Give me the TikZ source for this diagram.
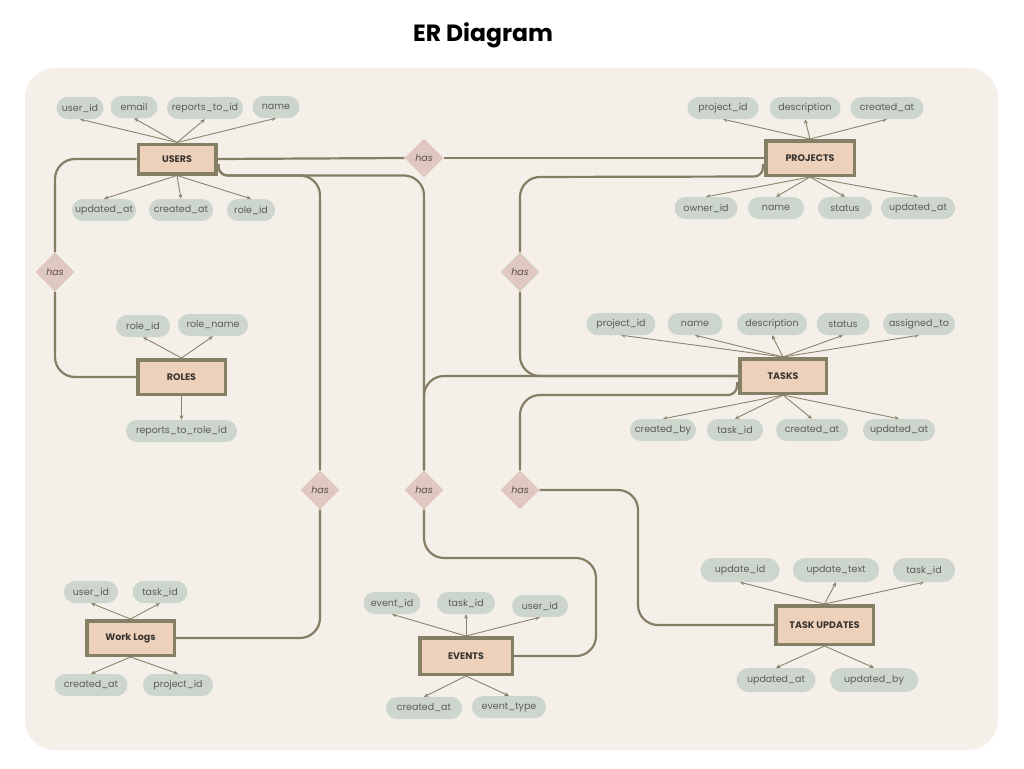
\documentclass[tikz,border=0pt]{standalone}
\usepackage{fontspec}
\setmainfont{Poppins}
\usetikzlibrary{shapes.geometric,arrows.meta,calc}
\definecolor{panel}{HTML}{F4EFE9}
\definecolor{entfill}{HTML}{EDD1BB}
\definecolor{entdraw}{HTML}{857F66}
\definecolor{attrfill}{HTML}{CDD6CC}
\definecolor{attrtext}{HTML}{5B5D57}
\definecolor{relfill}{HTML}{DFC8C0}
\definecolor{reltext}{HTML}{5A4F4C}
\definecolor{conn}{HTML}{847E66}
\definecolor{arr}{HTML}{8A846F}
\definecolor{enttext}{HTML}{3A3430}
\pgfdeclarelayer{panellayer}
\pgfdeclarelayer{lineslayer}
\pgfsetlayers{panellayer,lineslayer,main}
\begin{document}
\begin{tikzpicture}[x=1pt,y=-1pt,
 entity/.style={draw=entdraw,line width=3.5pt,fill=entfill,text=enttext,font=\bfseries\fontsize{9.5}{11}\selectfont,inner sep=0pt},
 attr/.style={fill=attrfill,text=attrtext,rounded corners=11pt,minimum height=22pt,inner sep=0pt,font=\fontsize{9.5}{11}\selectfont},
 rel/.style={diamond,fill=relfill,text=reltext,inner sep=0pt,minimum width=39pt,minimum height=39pt,font=\itshape\fontsize{9.5}{11}\selectfont},
 link/.style={draw=conn,line width=2.2pt,rounded corners=20pt},
 attrarrow/.style={draw=arr,line width=0.9pt,-{Stealth[length=4.5pt,width=4pt,inset=1.5pt]}}]
\useasboundingbox (0,0) rectangle (1024,768);
\begin{pgfonlayer}{panellayer}
\fill[white] (0,0) rectangle (1024,768);
\fill[panel,rounded corners=30pt] (25,68) rectangle (998,750);
\end{pgfonlayer}
\node[font=\bfseries\fontsize{23.5}{26}\selectfont,text=black] (title) at (483,35) {ER Diagram};

% entities
\node[entity,minimum width=77.5pt,minimum height=29.5pt] (users) at (177,159) {USERS};
\node[entity,minimum width=88.5pt,minimum height=34.5pt] (projects) at (810,158) {PROJECTS};
\node[entity,minimum width=87.5pt,minimum height=34.5pt] (roles) at (181.5,377) {ROLES};
\node[entity,minimum width=86.5pt,minimum height=34.5pt] (tasks) at (783,376) {TASKS};
\node[entity,minimum width=87.5pt,minimum height=34.5pt] (worklogs) at (130.5,638) {Work Logs};
\node[entity,minimum width=92.5pt,minimum height=36.5pt] (events) at (466,656) {EVENTS};
\node[entity,minimum width=97.5pt,minimum height=38.5pt] (tupd) at (824.5,625) {TASK UPDATES};

% relationships
\node[rel] (r1) at (424,158) {has};
\node[rel] (r2) at (55,272) {has};
\node[rel] (r3) at (520,272) {has};
\node[rel] (r4) at (320,490) {has};
\node[rel] (r5) at (424,490) {has};
\node[rel] (r6) at (520,490) {has};

% attributes USERS
\node[attr,minimum width=47pt] (u1) at (80,108) {user\_id};
\node[attr,minimum width=47pt] (u2) at (134,107) {email};
\node[attr,minimum width=76pt] (u3) at (205,108) {reports\_to\_id};
\node[attr,minimum width=47pt] (u4) at (276,107) {name};
\node[attr,minimum width=64pt] (u5) at (104,210) {updated\_at};
\node[attr,minimum width=64pt] (u6) at (181,210) {created\_at};
\node[attr,minimum width=48pt] (u7) at (251,210) {role\_id};
% PROJECTS
\node[attr,minimum width=71pt] (p1) at (723,108) {project\_id};
\node[attr,minimum width=71pt] (p2) at (805,108) {description};
\node[attr,minimum width=73pt] (p3) at (887,108) {created\_at};
\node[attr,minimum width=63pt] (p4) at (706,208) {owner\_id};
\node[attr,minimum width=56pt] (p5) at (776,208) {name};
\node[attr,minimum width=54pt] (p6) at (845,208) {status};
\node[attr,minimum width=74pt] (p7) at (918,208) {updated\_at};
% TASKS
\node[attr,minimum width=69pt] (t1) at (621,324) {project\_id};
\node[attr,minimum width=55pt] (t2) at (695,324) {name};
\node[attr,minimum width=70pt] (t3) at (772,324) {description};
\node[attr,minimum width=53pt] (t4) at (843,324) {status};
\node[attr,minimum width=72pt] (t5) at (919,324) {assigned\_to};
\node[attr,minimum width=66pt] (t6) at (663,430) {created\_by};
\node[attr,minimum width=56pt] (t7) at (735,430) {task\_id};
\node[attr,minimum width=72pt] (t8) at (812,430) {created\_at};
\node[attr,minimum width=72pt] (t9) at (899,430) {updated\_at};
% ROLES
\node[attr,minimum width=54pt] (o1) at (143,326) {role\_id};
\node[attr,minimum width=70pt] (o2) at (213,325) {role\_name};
\node[attr,minimum width=111pt] (o3) at (181.5,431) {reports\_to\_role\_id};
% Work Logs
\node[attr,minimum width=54pt] (w1) at (91,592) {user\_id};
\node[attr,minimum width=55pt] (w2) at (160,592) {task\_id};
\node[attr,minimum width=73pt] (w3) at (91,685) {created\_at};
\node[attr,minimum width=70pt] (w4) at (178,685) {project\_id};
% EVENTS
\node[attr,minimum width=57pt] (e1) at (392,603) {event\_id};
\node[attr,minimum width=58pt] (e2) at (466,603) {task\_id};
\node[attr,minimum width=56pt] (e3) at (540,606) {user\_id};
\node[attr,minimum width=76pt] (e4) at (424,708) {created\_at};
\node[attr,minimum width=74pt] (e5) at (509,707) {event\_type};
% TASK UPDATES
\node[attr,minimum width=79pt,minimum height=24pt,rounded corners=12pt] (d1) at (740,570) {update\_id};
\node[attr,minimum width=86pt,minimum height=24pt,rounded corners=12pt] (d2) at (836,570) {update\_text};
\node[attr,minimum width=62pt,minimum height=24pt,rounded corners=12pt] (d3) at (924,570) {task\_id};
\node[attr,minimum width=79pt,minimum height=24pt,rounded corners=12pt] (d4) at (776,680) {updated\_at};
\node[attr,minimum width=88pt,minimum height=24pt,rounded corners=12pt] (d5) at (874,680) {updated\_by};

\begin{pgfonlayer}{lineslayer}
% relationship connectors
\draw[link] (users.east) -- (r1.west);
\draw[link] (r1.east) -- (projects.west);
\draw[link] (users.west) -| (r2.north);
\draw[link] (r2.south) |- (roles.west);
\draw[link] ($(users.east)+(1,5)$) [rounded corners=9pt] -- ($(users.south east)+(1,0)$) [rounded corners=20pt] -- (r4.north |- users.south) -- (r4.north);
\draw[link] (r4.south) |- (worklogs.east);
\draw[link] ($(users.east)+(1,5)$) [rounded corners=9pt] -- ($(users.south east)+(1,0)$) [rounded corners=20pt] -- (r5.north |- users.south) -- (r5.north);
\draw[link] (r5.south) |- (596,558) |- (events.east);
\draw[link] (tasks.west) -| (r5.north);
\draw[link] ($(projects.west)+(-1,6)$) [rounded corners=9pt] -- ($(projects.south west)+(-1,-0.5)$) [rounded corners=20pt] -- (r3.north |- projects.south) -- (r3.north);
\draw[link] (r3.south) |- (tasks.west);
\draw[link] ($(tasks.west)+(-1,6)$) [rounded corners=9pt] -- ($(tasks.south west)+(-1,0)$) [rounded corners=20pt] -- (r6.north |- tasks.south) -- (r6.north);
\draw[link] (r6.east) -- (638,490) -- (638,625) -- (tupd.west);
% attribute arrows
\foreach \a in {u1,u2,u3,u4} \draw[attrarrow] (users.north) -- (\a.south);
\foreach \a in {u5,u6,u7} \draw[attrarrow] (users.south) -- (\a.north);
\foreach \a in {p1,p2,p3} \draw[attrarrow] (projects.north) -- (\a.south);
\foreach \a in {p4,p5,p6,p7} \draw[attrarrow] (projects.south) -- (\a.north);
\foreach \a in {t1,t2,t3,t4,t5} \draw[attrarrow] (tasks.north) -- (\a.south);
\foreach \a in {t6,t7,t8,t9} \draw[attrarrow] (tasks.south) -- (\a.north);
\foreach \a in {o1,o2} \draw[attrarrow] (roles.north) -- (\a.south);
\draw[attrarrow] (roles.south) -- (o3.north);
\foreach \a in {w1,w2} \draw[attrarrow] (worklogs.north) -- (\a.south);
\foreach \a in {w3,w4} \draw[attrarrow] (worklogs.south) -- (\a.north);
\foreach \a in {e1,e2,e3} \draw[attrarrow] (events.north) -- (\a.south);
\foreach \a in {e4,e5} \draw[attrarrow] (events.south) -- (\a.north);
\foreach \a in {d1,d2,d3} \draw[attrarrow] (tupd.north) -- (\a.south);
\foreach \a in {d4,d5} \draw[attrarrow] (tupd.south) -- (\a.north);
\end{pgfonlayer}
\end{tikzpicture}
\end{document}
